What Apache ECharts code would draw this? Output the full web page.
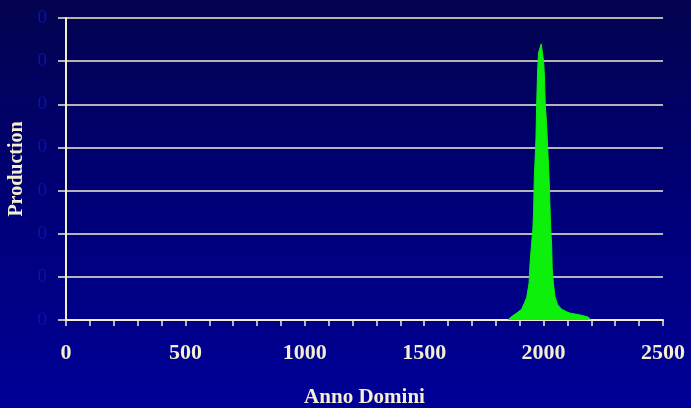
<!DOCTYPE html>
<html>
<head>
<meta charset="utf-8">
<script src="https://cdn.jsdelivr.net/npm/echarts@6/dist/echarts.min.js"></script>
<style>
html,body{margin:0;padding:0;background:#000070;overflow:hidden;}
#chart{width:691px;height:408px;}
</style>
</head>
<body>
<div id="chart"></div>
<script>
// Data
var years = [1850, 1858, 1866, 1887, 1908, 1920, 1929, 1939, 1943, 1951, 1955, 1958, 1961, 1965, 1968, 1971, 1975, 1979, 1984, 1990, 1996, 2000, 2003, 2007, 2013, 2017, 2023, 2028, 2031, 2034, 2036, 2041, 2048, 2059, 2076, 2097, 2110, 2150, 2186, 2195, 2200];
var production = [0, 0.3, 0.8, 1.6, 2.5, 4.0, 5.2, 8.5, 13, 18.5, 21, 25, 33, 38, 42, 50, 58, 62, 62, 64, 64, 60, 57, 50, 45, 40, 33, 24, 20, 17, 12, 8.5, 5.4, 3.5, 2.5, 1.9, 1.6, 1.2, 0.7, 0.2, 0];
var xTickLabels = ['0', '500', '1000', '1500', '2000', '2500'];
var yTickLabels = ['0', '0', '0', '0', '0', '0', '0', '0'];
var xAxisTitle = 'Anno Domini';
var yAxisTitle = 'Production';

var seriesData = years.map(function (y, i) { return [y, production[i]]; });

var cream = '#f4efcf';
var chart = echarts.init(document.getElementById('chart'), null, {renderer: 'canvas', width: 691, height: 408});
chart.setOption({
  animation: false,
  backgroundColor: {
    type: 'linear', x: 0, y: 0, x2: 0, y2: 1,
    colorStops: [
      {offset: 0, color: '#03034f'},
      {offset: 0.5, color: '#000078'},
      {offset: 1, color: '#000098'}
    ]
  },
  grid: {left: 66, right: 28, top: 18, bottom: 88, containLabel: false, outerBoundsMode: 'none'},
  xAxis: {
    type: 'value',
    min: 0, max: 2500, interval: 500,
    name: xAxisTitle,
    nameLocation: 'middle',
    nameGap: 67,
    nameTextStyle: {color: cream, fontFamily: 'Liberation Serif', fontWeight: 'bold', fontSize: 21},
    axisLine: {show: true, lineStyle: {color: cream, width: 2}},
    axisTick: {show: true, length: 6, lineStyle: {color: cream, width: 1.5}},
    minorTick: {show: true, splitNumber: 5, length: 6, lineStyle: {color: cream, width: 1.5}},
    splitLine: {show: false},
    axisLabel: {
      color: cream, fontFamily: 'Liberation Serif', fontWeight: 'bold', fontSize: 22, margin: 22,
      formatter: function (v) { return xTickLabels[Math.round(v / 500)]; }
    }
  },
  yAxis: {
    type: 'value',
    min: 0, max: 70, interval: 10,
    name: yAxisTitle,
    nameLocation: 'middle',
    nameGap: 39,
    nameTextStyle: {color: cream, fontFamily: 'Liberation Serif', fontWeight: 'bold', fontSize: 20},
    axisLine: {show: true, lineStyle: {color: cream, width: 2}},
    axisTick: {show: true, length: 8, lineStyle: {color: cream, width: 1.5}},
    splitLine: {show: true, lineStyle: {color: cream, width: 1.5}},
    axisLabel: {
      color: '#0c12a6', fontFamily: 'Liberation Serif', fontWeight: 'normal', fontSize: 19, margin: 19,
      formatter: function (v) { return yTickLabels[Math.round(v / 10)]; }
    }
  },
  series: [{
    type: 'line',
    data: seriesData,
    showSymbol: false,
    symbol: 'none',
    lineStyle: {color: '#0cf00c', width: 1},
    areaStyle: {color: '#0cf00c', opacity: 1},
    z: 3
  }]
});
</script>
</body>
</html>
